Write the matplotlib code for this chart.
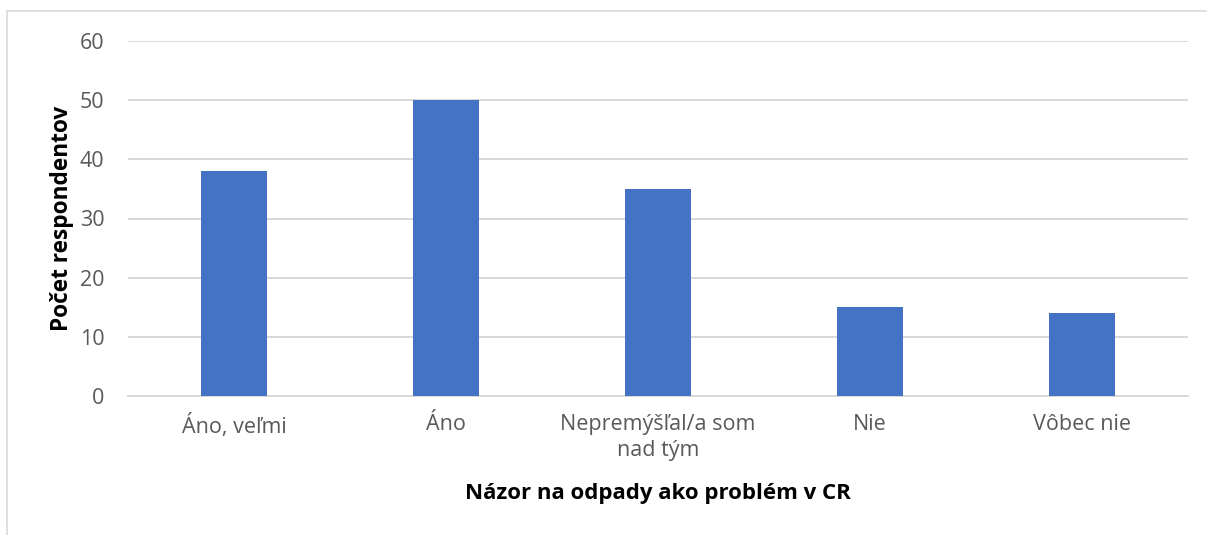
import matplotlib
matplotlib.use("Agg")
import matplotlib.pyplot as plt
from matplotlib.lines import Line2D

categories = ["Áno, veľmi", "Áno", "Nepremýšľal/a som\nnad tým", "Nie", "Vôbec nie"]
values = [38, 50, 35, 15, 14]
yticks = [0, 10, 20, 30, 40, 50, 60]

plt.rcParams['font.family'] = ['Open Sans', 'DejaVu Sans']

W, H = 1207, 535
fig = plt.figure(figsize=(W / 100, H / 100), dpi=100)
ax = fig.add_axes([128 / W, 1 - 396 / H, (1188 - 128) / W, (396 - 41) / H])

x = list(range(len(categories)))
ax.bar(x, values, width=0.31, color="#4472C4", zorder=3)
ax.set_xlim(-0.5, len(categories) - 0.5)
ax.set_ylim(0, 60)
ax.set_yticks(yticks)
ax.set_xticks(x)
ax.set_xticklabels(categories, fontsize=15.5, color="#595959", linespacing=1.3)
ax.tick_params(axis='y', labelsize=15.5, labelcolor="#595959", length=0, pad=17)
ax.tick_params(axis='x', length=0, pad=13)
ax.grid(axis='y', color="#d9d9d9", linewidth=1.4, zorder=0)
for s in ["top", "right", "left"]:
    ax.spines[s].set_visible(False)
ax.spines["bottom"].set_color("#d9d9d9")
ax.spines["bottom"].set_linewidth(1.4)

ax.set_ylabel("Počet respondentov", fontsize=16.3, fontweight="bold", color="black", labelpad=4)
ax.set_xlabel("Názor na odpady ako problém v CR", fontsize=16, fontweight="bold", color="black", labelpad=16)

# chart border
fig.add_artist(Line2D([7 / W, 7 / W], [0, 1 - 11 / H], transform=fig.transFigure, color="#d9d9d9", linewidth=1.2))
fig.add_artist(Line2D([7 / W, 1], [1 - 11 / H, 1 - 11 / H], transform=fig.transFigure, color="#d9d9d9", linewidth=1.2))

fig.savefig("out.png", dpi=100)
